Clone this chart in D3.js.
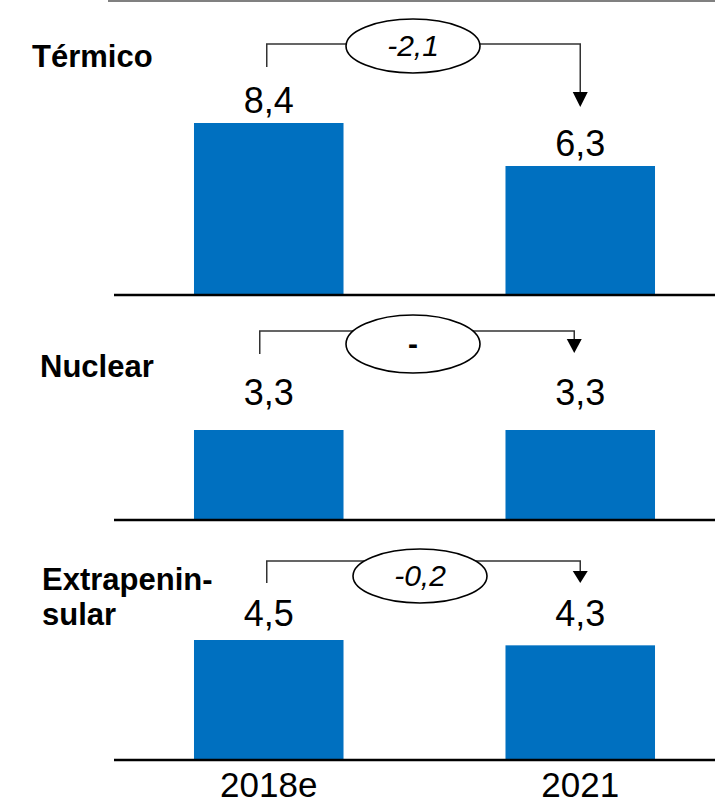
<!DOCTYPE html>
<html>
<head>
<meta charset="utf-8">
<script src="https://cdn.jsdelivr.net/npm/d3@7"></script>
<style>
  html, body { margin: 0; padding: 0; background: #fff; }
  svg { display: block; font-family: "Liberation Sans", Arial, sans-serif; }
</style>
</head>
<body>
<svg id="chart" width="715" height="803"></svg>
<script>
// ---- data ----
const categories = ["2018e", "2021"];
const panelNames = [["Térmico"], ["Nuclear"], ["Extrapenin-", "sular"]];
const termico = [8.4, 6.3];
const nuclear = [3.3, 3.3];
const extrapeninsular = [4.5, 4.3];
const deltaLabels = ["-2,1", "-", "-0,2"];
const seriesValues = [termico, nuclear, extrapeninsular];

// ---- layout (positions / sizes only) ----
const layout = [
  { base: 295, top: 123, domMax: 8.4, labelOff: 10, nameX: 32, nameY: 67,
    lineY: 44, leftDx: -2, rightDx: 0, leftEnd: 67, tip: 107, head: 15,
    ell: { cx: 413, cy: 46, rx: 67, ry: 27 }, italic: true },
  { base: 520, top: 430, domMax: 3.3, labelOff: 25, nameX: 40, nameY: 377,
    lineY: 331, leftDx: -9, rightDx: -6, leftEnd: 354, tip: 353, head: 14,
    ell: { cx: 413, cy: 344, rx: 67, ry: 29 }, italic: false },
  { base: 760, top: 640, domMax: 4.5, labelOff: 14, nameX: 42, nameY: 590,
    lineY: 561, leftDx: -2, rightDx: 0, leftEnd: 583, tip: 583, head: 12,
    ell: { cx: 420, cy: 576, rx: 67, ry: 27 }, italic: true }
];

const svg = d3.select("#chart");
const barColor = "#0070C0";
const locale = d3.formatLocale({ decimal: ",", thousands: ".", grouping: [3], currency: ["", "€"] });
const fmt = locale.format(".1f");

const x = d3.scaleBand().domain(categories).range([113, 736])
  .paddingInner(0.52).paddingOuter(0.26);

// top grey rule
svg.append("line").attr("x1", 108).attr("x2", 715).attr("y1", 1).attr("y2", 1)
  .attr("stroke", "#808080").attr("stroke-width", 2);

layout.forEach((L, i) => {
  const vals = seriesValues[i];
  const y = d3.scaleLinear().domain([0, L.domMax]).range([L.base, L.top]);
  const g = svg.append("g");

  // bars
  g.selectAll("rect").data(vals).join("rect")
    .attr("x", (d, j) => x(categories[j]))
    .attr("width", x.bandwidth())
    .attr("y", d => y(d))
    .attr("height", d => y(0) - y(d))
    .attr("fill", barColor);

  // baseline
  g.append("line").attr("x1", 114).attr("x2", 715)
    .attr("y1", y(0)).attr("y2", y(0))
    .attr("stroke", "#000").attr("stroke-width", 2.5);

  // value labels
  const labelY = i === 0 ? (d => y(d) - L.labelOff)
                         : (() => y(d3.max(vals)) - L.labelOff);
  g.selectAll("text.val").data(vals).join("text").attr("class", "val")
    .attr("x", (d, j) => x(categories[j]) + x.bandwidth() / 2)
    .attr("y", labelY)
    .attr("text-anchor", "middle")
    .attr("font-size", 36)
    .attr("fill", "#000")
    .text(d => fmt(d));

  // panel name
  const nm = g.append("text").attr("x", L.nameX).attr("y", L.nameY)
    .attr("font-size", 31).attr("font-weight", "bold").attr("fill", "#000");
  panelNames[i].forEach((t, k) => {
    nm.append("tspan").attr("x", L.nameX).attr("dy", k === 0 ? 0 : 35).text(t);
  });

  // bracket
  const xl = x(categories[0]) + x.bandwidth() / 2 + L.leftDx;
  const xr = x(categories[1]) + x.bandwidth() / 2 + L.rightDx;
  g.append("path")
    .attr("d", `M${xl},${L.leftEnd}V${L.lineY}H${xr}V${L.tip - L.head + 1}`)
    .attr("fill", "none").attr("stroke", "#333").attr("stroke-width", 1.5);
  g.append("path")
    .attr("d", `M${xr - 7.5},${L.tip - L.head}L${xr + 7.5},${L.tip - L.head}L${xr},${L.tip}Z`)
    .attr("fill", "#000");

  // ellipse with delta
  g.append("ellipse").attr("cx", L.ell.cx).attr("cy", L.ell.cy)
    .attr("rx", L.ell.rx).attr("ry", L.ell.ry)
    .attr("fill", "#fff").attr("stroke", "#000").attr("stroke-width", 1.6);
  g.append("text").attr("x", L.ell.cx).attr("y", L.ell.cy + 10)
    .attr("text-anchor", "middle")
    .attr("font-size", 30)
    .attr("font-style", L.italic ? "italic" : "normal")
    .attr("font-weight", L.italic ? "normal" : "bold")
    .attr("fill", "#000")
    .text(deltaLabels[i]);
});

// category axis labels
svg.selectAll("text.cat").data(categories).join("text").attr("class", "cat")
  .attr("x", d => x(d) + x.bandwidth() / 2)
  .attr("y", 797)
  .attr("text-anchor", "middle")
  .attr("font-size", 35)
  .attr("fill", "#000")
  .text(d => d);
</script>
</body>
</html>
